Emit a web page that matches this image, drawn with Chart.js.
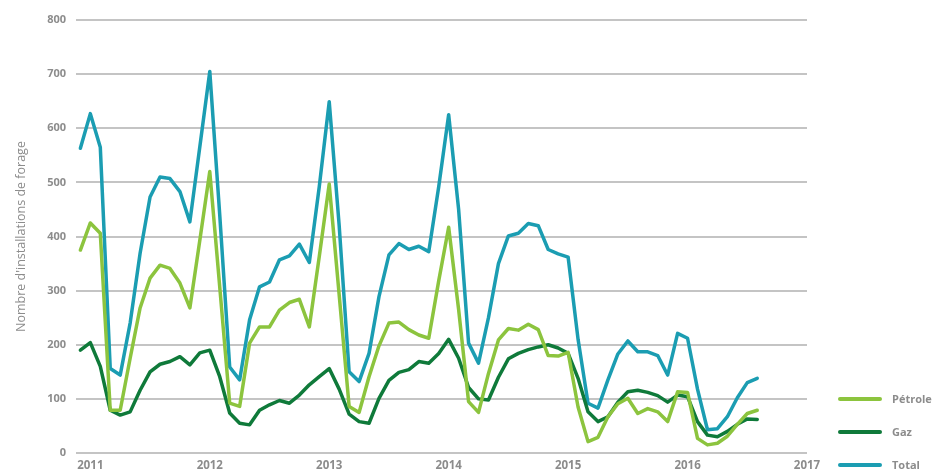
<!DOCTYPE html>
<html lang="fr">
<head>
<meta charset="utf-8">
<title>Nombre d'installations de forage</title>
<script src="https://cdn.jsdelivr.net/npm/chart.js@4.4.1/dist/chart.umd.min.js"></script>
<style>
  html, body { margin: 0; padding: 0; background: #fff; }
  #wrap { width: 936px; height: 475px; }
</style>
</head>
<body>
<div id="wrap"><canvas id="rigChart" width="936" height="475"></canvas></div>
<script>
// monthly counts, Dec 2010 -> Aug 2016
const months = [
  '2010-12',
  '2011-01', '2011-02', '2011-03', '2011-04', '2011-05', '2011-06', '2011-07', '2011-08', '2011-09', '2011-10', '2011-11', '2011-12',
  '2012-01', '2012-02', '2012-03', '2012-04', '2012-05', '2012-06', '2012-07', '2012-08', '2012-09', '2012-10', '2012-11', '2012-12',
  '2013-01', '2013-02', '2013-03', '2013-04', '2013-05', '2013-06', '2013-07', '2013-08', '2013-09', '2013-10', '2013-11', '2013-12',
  '2014-01', '2014-02', '2014-03', '2014-04', '2014-05', '2014-06', '2014-07', '2014-08', '2014-09', '2014-10', '2014-11', '2014-12',
  '2015-01', '2015-02', '2015-03', '2015-04', '2015-05', '2015-06', '2015-07', '2015-08', '2015-09', '2015-10', '2015-11', '2015-12',
  '2016-01', '2016-02', '2016-03', '2016-04', '2016-05', '2016-06', '2016-07', '2016-08'
];

const petrole = [
  375,
  425, 406, 79, 79, 175, 268, 323, 347, 341, 314, 268, 393,
  520, 307, 92, 86, 203, 233, 233, 264, 278, 284, 233, 363,
  497, 292, 86, 75, 141, 198, 240, 242, 228, 218, 212, 318,
  417, 265, 95, 75, 147, 209, 230, 227, 238, 228, 180, 179,
  186, 85, 21, 29, 67, 91, 101, 73, 82, 76, 58, 113,
  112, 27, 15, 18, 31, 53, 73, 79
];

const gaz = [
  190,
  204, 160, 79, 70, 76, 116, 150, 164, 169, 178, 163, 185,
  190, 141, 74, 55, 52, 79, 89, 97, 92, 107, 126, 141,
  156, 118, 72, 58, 55, 101, 134, 149, 154, 169, 166, 184,
  210, 175, 121, 100, 98, 140, 174, 184, 191, 196, 200, 194,
  184, 138, 76, 58, 67, 94, 113, 116, 112, 106, 94, 107,
  104, 58, 33, 30, 40, 53, 63, 62
];

const total = [
  563,
  627, 565, 156, 144, 240, 369, 473, 510, 507, 483, 427, 566,
  705, 440, 159, 135, 246, 307, 316, 357, 364, 386, 352, 492,
  649, 420, 150, 132, 184, 289, 366, 387, 376, 382, 372, 492,
  625, 450, 203, 166, 250, 350, 401, 406, 424, 420, 376, 368,
  362, 210, 92, 83, 135, 183, 207, 187, 187, 180, 144, 221,
  212, 118, 43, 45, 67, 102, 130, 138
];

const yearTicks = [2011, 2012, 2013, 2014, 2015, 2016, 2017];
const yTicks = [0, 100, 200, 300, 400, 500, 600, 700, 800];

const seriesNames = ['Pétrole', 'Gaz', 'Total'];
const seriesColors = ['#8cc43e', '#0f7a3a', '#1b9db2'];

const grey = '#8c8c8c';
const fontFamily = "'Open Sans', 'Noto Sans', sans-serif";

// month string -> decimal year for the linear x axis
const toX = (m) => {
  const [y, mo] = m.split('-').map(Number);
  return y + (mo - 1) / 12;
};

const toPoints = (values) => values.map((v, i) => ({ x: toX(months[i]), y: v }));

// legend drawn to the right of the plot, bottom aligned
const sideLegend = {
  id: 'sideLegend',
  afterDraw(chart) {
    const { ctx, chartArea } = chart;
    const x0 = chartArea.right + 33;
    const x1 = x0 + 40;
    ctx.save();
    chart.data.datasets.forEach((ds, i) => {
      const y = chartArea.bottom - 54 + i * 33;
      ctx.strokeStyle = ds.borderColor;
      ctx.lineWidth = 4;
      ctx.lineCap = 'round';
      ctx.beginPath();
      ctx.moveTo(x0, y);
      ctx.lineTo(x1, y);
      ctx.stroke();
      ctx.fillStyle = grey;
      ctx.font = `bold 11px ${fontFamily}`;
      ctx.textBaseline = 'middle';
      ctx.textAlign = 'left';
      ctx.fillText(ds.label, x1 + 12, y + 1);
    });
    ctx.restore();
  }
};

const datasets = [petrole, gaz, total].map((vals, i) => ({
  label: seriesNames[i],
  data: toPoints(vals),
  borderColor: seriesColors[i],
  backgroundColor: seriesColors[i],
  borderWidth: 3.5,
  pointRadius: 0,
  tension: 0,
  borderJoinStyle: 'round',
  borderCapStyle: 'round',
  fill: false
}));

new Chart(document.getElementById('rigChart'), {
  type: 'line',
  data: { datasets },
  plugins: [sideLegend],
  options: {
    responsive: false,
    animation: false,
    events: [],
    layout: { padding: { top: 20, right: 129, bottom: 0, left: 0 } },
    plugins: {
      legend: { display: false },
      tooltip: { enabled: false }
    },
    scales: {
      x: {
        type: 'linear',
        min: 2010.88,
        max: 2017,
        grid: { display: false, drawTicks: false },
        border: { display: false },
        afterBuildTicks: (scale) => { scale.ticks = yearTicks.map(v => ({ value: v })); },
        afterFit: (scale) => { scale.height = 22; },
        ticks: {
          padding: 6,
          color: grey,
          font: { family: fontFamily, size: 11.5, weight: 'bold' },
          maxRotation: 0,
          callback: (v) => String(v)
        }
      },
      y: {
        min: 0,
        max: 800,
        border: { display: false },
        grid: { color: '#c4c4c4', lineWidth: 2, drawTicks: false },
        afterBuildTicks: (scale) => { scale.ticks = yTicks.map(v => ({ value: v })); },
        afterFit: (scale) => { scale.width = 76; },
        ticks: {
          padding: 10,
          color: grey,
          font: { family: fontFamily, size: 11, weight: 'bold' }
        },
        title: {
          display: true,
          text: "Nombre d'installations de forage",
          color: grey,
          font: { family: fontFamily, size: 12.5 },
          padding: { top: 14, bottom: 4 }
        }
      }
    }
  }
});
</script>
</body>
</html>
